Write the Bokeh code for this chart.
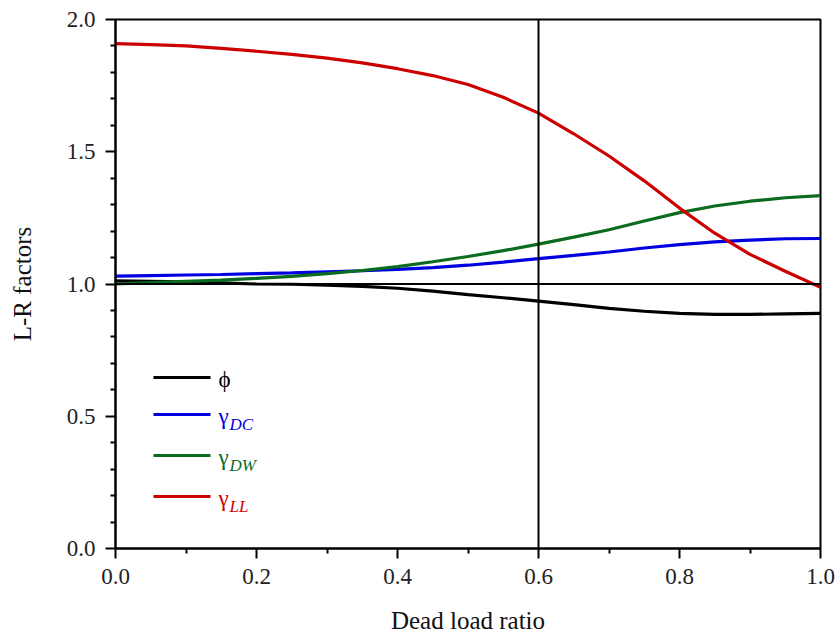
from bokeh.plotting import figure
from bokeh.models import (FixedTicker, Span, Label, BoxAnnotation, Range1d, PrintfTickFormatter)
from bokeh.embed import file_html
from bokeh.resources import INLINE

# Data
x = [0.0, 0.05, 0.1, 0.15, 0.2, 0.25, 0.3, 0.35, 0.4, 0.45, 0.5,
     0.55, 0.6, 0.65, 0.7, 0.75, 0.8, 0.85, 0.9, 0.95, 1.0]
phi = [1.012, 1.010, 1.008, 1.004, 1.000, 0.999, 0.996, 0.991, 0.984, 0.973, 0.960,
       0.948, 0.935, 0.922, 0.908, 0.897, 0.889, 0.885, 0.885, 0.887, 0.889]
gamma_dc = [1.030, 1.032, 1.034, 1.036, 1.039, 1.042, 1.046, 1.050, 1.055, 1.062, 1.071,
            1.083, 1.096, 1.108, 1.121, 1.136, 1.149, 1.159, 1.166, 1.171, 1.172]
gamma_dw = [1.000, 1.005, 1.010, 1.015, 1.021, 1.029, 1.039, 1.051, 1.066, 1.084, 1.104,
            1.126, 1.151, 1.177, 1.205, 1.238, 1.270, 1.295, 1.313, 1.326, 1.334]
gamma_ll = [1.909, 1.905, 1.900, 1.891, 1.880, 1.868, 1.854, 1.836, 1.814, 1.788, 1.754,
            1.706, 1.646, 1.568, 1.484, 1.390, 1.287, 1.192, 1.112, 1.048, 0.988]

series = [
    ("\u03d5", "", phi, "#000000"),
    ("\u03b3", "DC", gamma_dc, "#0000e0"),
    ("\u03b3", "DW", gamma_dw, "#0b6b1f"),
    ("\u03b3", "LL", gamma_ll, "#cc0000"),
]

x_ticks = [0.0, 0.2, 0.4, 0.6, 0.8, 1.0]
x_minor = [0.1, 0.3, 0.5, 0.7, 0.9]
y_ticks = [0.0, 0.5, 1.0, 1.5, 2.0]
y_minor = [0.1, 0.2, 0.3, 0.4, 0.6, 0.7, 0.8, 0.9, 1.1, 1.2, 1.3, 1.4, 1.6, 1.7, 1.8, 1.9]

FONT = "Liberation Serif, Times New Roman, serif"

p = figure(width=840, height=638, output_backend="svg", toolbar_location=None,
           x_range=Range1d(0, 1), y_range=Range1d(0, 2),
           min_border_left=115, min_border_right=20, min_border_top=19, min_border_bottom=90)

p.grid.visible = False
p.outline_line_color = "black"
p.outline_line_width = 2

for ax in (p.xaxis[0], p.yaxis[0]):
    ax.axis_line_width = 2
    ax.major_tick_line_width = 2
    ax.minor_tick_line_width = 2
    ax.major_tick_out = 10
    ax.major_tick_in = 0
    ax.minor_tick_out = 5
    ax.minor_tick_in = 0
    ax.major_label_text_font = FONT
    ax.major_label_text_font_size = "23px"
    ax.major_label_text_color = "#222222"
    ax.axis_label_text_font = FONT
    ax.axis_label_text_font_size = "25px"
    ax.axis_label_text_font_style = "normal"
    ax.axis_label_text_color = "#111111"
    ax.formatter = PrintfTickFormatter(format="%.1f")

p.xaxis[0].ticker = FixedTicker(ticks=x_ticks, minor_ticks=x_minor)
p.yaxis[0].ticker = FixedTicker(ticks=y_ticks, minor_ticks=y_minor)
p.xaxis[0].axis_label = "Dead load ratio"
p.yaxis[0].axis_label = "L-R factors"
p.xaxis[0].major_label_standoff = 10
p.yaxis[0].major_label_standoff = 10
p.xaxis[0].axis_label_standoff = 20
p.yaxis[0].axis_label_standoff = 28

p.add_layout(Span(location=0.6, dimension="height", line_color="black", line_width=2))
p.add_layout(Span(location=1.0, dimension="width", line_color="black", line_width=2))

for name, sub, ys, col in series:
    p.line(x, ys, line_color=col, line_width=3.2)

# legend (screen units relative to frame)
leg_y = [171, 134, 93, 52]
for (name, sub, ys, col), ly in zip(series, leg_y):
    p.add_layout(BoxAnnotation(left=38, right=95, bottom=ly - 1.5, top=ly + 1.5,
                               left_units="screen", right_units="screen",
                               top_units="screen", bottom_units="screen",
                               fill_color=col, fill_alpha=1, line_alpha=0))
    p.add_layout(Label(x=103, y=ly - 2, x_units="screen", y_units="screen", text=name,
                       text_font=FONT, text_font_size="23px", text_color=col,
                       text_baseline="middle"))
    if sub:
        p.add_layout(Label(x=114, y=ly - 10, x_units="screen", y_units="screen", text=sub,
                           text_font=FONT, text_font_size="17px", text_font_style="italic",
                           text_color=col, text_baseline="middle"))

open("out.html", "w").write(file_html(p, INLINE))
